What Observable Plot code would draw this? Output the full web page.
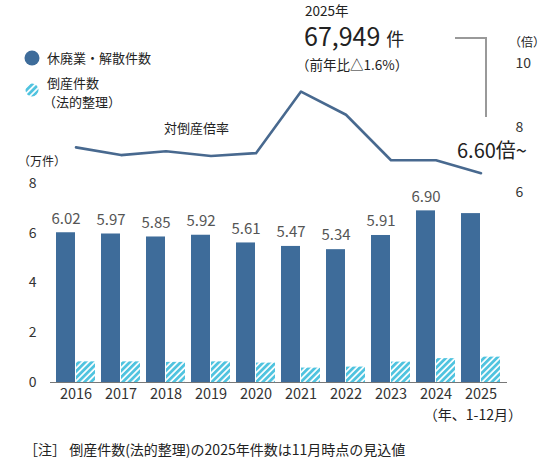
<!DOCTYPE html>
<html><head><meta charset="utf-8">
<script src="https://cdn.jsdelivr.net/npm/d3@7"></script>
<script src="https://cdn.jsdelivr.net/npm/@observablehq/plot@0.6"></script>
<style>
body{margin:0;background:#fff;font-family:"Noto Sans CJK JP","Noto Sans",sans-serif}
</style>
</head><body><div id="chart"></div>
<script>
const years = ["2016","2017","2018","2019","2020","2021","2022","2023","2024","2025"];
const closures = [6.02,5.97,5.85,5.92,5.61,5.47,5.34,5.91,6.90,6.79];
const bankruptcies = [0.83,0.83,0.81,0.83,0.78,0.58,0.62,0.82,0.96,1.02];
const ratio = [7.40,7.16,7.28,7.13,7.22,9.13,8.41,7.00,7.00,6.60];
const barLabels = ["6.02","5.97","5.85","5.92","5.61","5.47","5.34","5.91","6.90",""];
const leftTicks = [0,2,4,6,8];
const rightTicks = [6,8,10];

// right (倍) axis mapped onto left (万件) scale
const toLeft = r => (190 + (r - 6) * 32.25) / 24.875;

const data = years.map((y,i)=>({year:y, closures:closures[i], bankruptcies:bankruptcies[i], ratio:ratio[i], label:barLabels[i]}));

const darkBlue = "#3e6c9a";
const lineBlue = "#48698f";

const chart = Plot.plot({
  width: 558, height: 463,
  marginLeft: 50, marginRight: 51, marginTop: 183, marginBottom: 81,
  style: {fontFamily: '"Noto Sans CJK JP","Noto Sans",sans-serif', fontSize: "14px", color: "#333", background: "#fff"},
  x: {type: "band", domain: years, paddingInner: 0.125, paddingOuter: 0.0625},
  y: {domain: [0, 8]},
  marks: [
    Plot.barY(data, {x: "year", y: "closures", fill: darkBlue, insetLeft: 0, insetRight: 20}),
    Plot.barY(data, {x: "year", y: "bankruptcies", fill: "url(#hatch)", insetLeft: 20, insetRight: 0}),
    Plot.ruleY([0], {stroke: "#777", strokeWidth: 1.2}),
    Plot.text(data, {x: "year", y: "closures", text: "label", dx: -10, dy: -14, fill: "#555", fontSize: 15}),
    Plot.lineY(data, {x: "year", y: d => toLeft(d.ratio), stroke: lineBlue, strokeWidth: 2.6}),
    Plot.axisX({tickSize: 0, tickPadding: 6, fontSize: 14.5, label: null, fill: "#333"}),
    Plot.axisY({ticks: leftTicks, tickSize: 0, tickPadding: 14, fontSize: 14, label: null, fill: "#333"}),
    Plot.text(rightTicks, {y: d => toLeft(d), text: d => String(d), frameAnchor: "right", dx: 8, textAnchor: "start", fontSize: 14, fill: "#333"})
  ]
});

const svg = d3.select(chart);
const defs = svg.insert("defs", ":first-child");
const pat = defs.append("pattern").attr("id","hatch").attr("patternUnits","userSpaceOnUse")
  .attr("width",4.5).attr("height",4.5).attr("patternTransform","rotate(45)");
pat.append("rect").attr("width",4.5).attr("height",4.5).attr("fill","#ffffff");
pat.append("rect").attr("width",2.8).attr("height",4.5).attr("fill","#4fc3df");

const ann = svg.append("g").attr("font-family",'"Noto Sans CJK JP","Noto Sans",sans-serif').attr("fill","#222").attr("text-anchor","start");
// legend
ann.append("circle").attr("cx",32).attr("cy",58).attr("r",7.5).attr("fill",darkBlue);
ann.append("circle").attr("cx",32).attr("cy",90).attr("r",6.5).attr("fill","url(#hatch)");
ann.append("text").attr("x",47).attr("y",58).attr("dy","0.35em").attr("font-size",13).text("休廃業・解散件数");
ann.append("text").attr("x",47).attr("y",83).attr("dy","0.35em").attr("font-size",13).text("倒産件数");
ann.append("text").attr("x",43).attr("y",102).attr("dy","0.35em").attr("font-size",13).text("（法的整理）");
// line label
ann.append("text").attr("x",164).attr("y",128).attr("dy","0.35em").attr("font-size",13).text("対倒産倍率");
// units
ann.append("text").attr("x",18).attr("y",162).attr("dy","0.35em").attr("font-size",12).text("（万件）");
ann.append("text").attr("x",509).attr("y",43).attr("dy","0.35em").attr("font-size",12).text("（倍）");
// headline
ann.append("text").attr("x",305).attr("y",11).attr("dy","0.35em").attr("font-size",13.5).text("2025年");
const big = ann.append("text").attr("x",304).attr("y",41).attr("dy","0.35em");
big.append("tspan").attr("font-size",25).text("67,949");
big.append("tspan").attr("font-size",18).attr("dx",6).text("件");
ann.append("text").attr("x",296).attr("y",65).attr("dy","0.35em").attr("font-size",13.5).text("（前年比△1.6%）");
// bracket
ann.append("path").attr("d","M455,38 H486 V117").attr("fill","none").attr("stroke","#999").attr("stroke-width",2);
ann.append("text").attr("x",457).attr("y",151).attr("dy","0.35em").attr("font-size",20).text("6.60倍~");
// period & note
ann.append("text").attr("x",522).attr("y",415).attr("dy","0.35em").attr("text-anchor","end").attr("font-size",14).text("（年、1-12月）");
ann.append("text").attr("x",24).attr("y",450).attr("dy","0.35em").attr("font-size",14).text("［注］ 倒産件数(法的整理)の2025年件数は11月時点の見込値");

document.getElementById("chart").appendChild(chart);
</script>
</body></html>
